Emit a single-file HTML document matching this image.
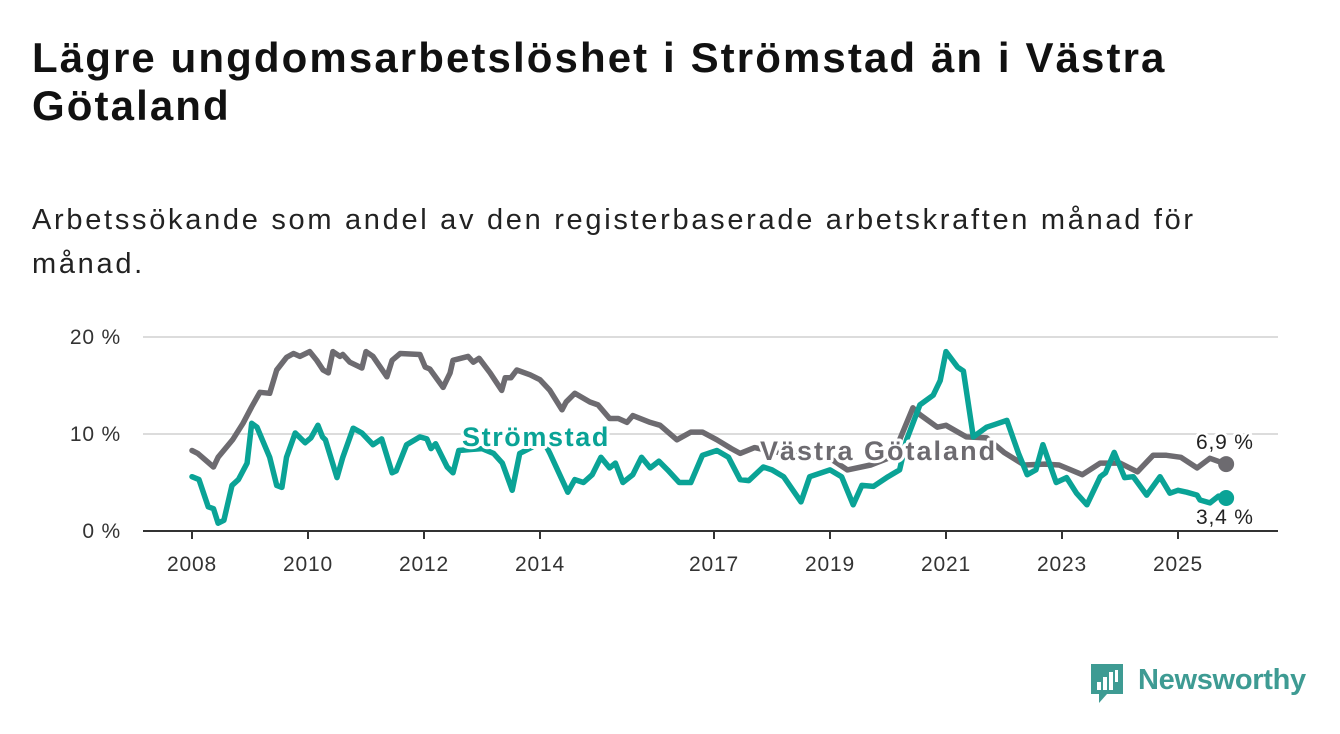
<!DOCTYPE html>
<html><head><meta charset="utf-8"><style>
body{margin:0;width:1340px;height:734px;background:#fff;overflow:hidden;font-family:"Liberation Sans","DejaVu Sans",sans-serif;}
h1{position:absolute;left:32px;top:34px;margin:0;font-size:42px;line-height:48px;font-weight:bold;color:#111;width:1300px;letter-spacing:2.1px;white-space:nowrap}
.sub{position:absolute;left:32px;top:198px;font-size:29px;line-height:44px;color:#222;width:1300px;letter-spacing:2.7px;white-space:nowrap}
svg{position:absolute;left:0;top:0}
</style></head><body>
<h1>Lägre ungdomsarbetslöshet i Strömstad än i Västra<br>Götaland</h1>
<div class="sub">Arbetssökande som andel av den registerbaserade arbetskraften månad för<br>månad.</div>
<svg id="chart" width="1340" height="734"></svg>
<script>
const yTicks=[0,10,20];
const yTickLabels=["0 %","10 %","20 %"];
const xTicks=[2008,2010,2012,2014,2017,2019,2021,2023,2025];
const vgYears=[2008.0,2008.1,2008.37,2008.45,2008.7,2008.88,2009.03,2009.17,2009.34,2009.46,2009.63,2009.75,2009.86,2010.03,2010.15,2010.26,2010.35,2010.43,2010.55,2010.6,2010.72,2010.93,2011.0,2011.12,2011.36,2011.45,2011.59,2011.93,2012.02,2012.1,2012.33,2012.45,2012.5,2012.76,2012.85,2012.95,2013.14,2013.34,2013.4,2013.5,2013.6,2013.83,2014.0,2014.17,2014.38,2014.45,2014.6,2014.86,2015.0,2015.2,2015.35,2015.5,2015.6,2015.9,2016.07,2016.36,2016.6,2016.8,2017.05,2017.3,2017.45,2017.7,2018.0,2018.5,2019.0,2019.3,2019.7,2020.0,2020.2,2020.43,2020.55,2020.85,2021.0,2021.35,2021.7,2022.0,2022.35,2022.7,2022.95,2023.35,2023.66,2024.0,2024.3,2024.57,2024.8,2025.05,2025.33,2025.55,2025.83];
const vgValues=[8.3,8.0,6.6,7.6,9.4,11.1,12.8,14.3,14.2,16.6,17.9,18.3,18.0,18.5,17.6,16.6,16.3,18.5,18.0,18.2,17.4,16.8,18.5,18.0,15.9,17.6,18.3,18.2,16.9,16.7,14.8,16.3,17.6,18.0,17.4,17.8,16.3,14.5,15.8,15.8,16.6,16.1,15.6,14.5,12.5,13.3,14.2,13.3,13.0,11.6,11.6,11.2,11.9,11.2,10.9,9.4,10.2,10.2,9.4,8.5,8.0,8.6,8.2,7.8,7.5,6.3,6.8,7.5,9.4,12.7,12.0,10.7,10.9,9.7,9.6,8.1,6.8,6.9,6.8,5.8,7.0,7.0,6.1,7.8,7.8,7.6,6.5,7.5,6.9];
const stYears=[2008.0,2008.12,2008.28,2008.37,2008.45,2008.55,2008.69,2008.8,2008.95,2009.03,2009.12,2009.34,2009.46,2009.55,2009.63,2009.78,2009.95,2010.05,2010.17,2010.25,2010.3,2010.5,2010.6,2010.78,2010.93,2011.12,2011.27,2011.45,2011.52,2011.7,2011.93,2012.05,2012.12,2012.2,2012.4,2012.5,2012.6,2012.8,2013.0,2013.2,2013.35,2013.52,2013.65,2013.85,2014.05,2014.17,2014.48,2014.6,2014.75,2014.9,2015.05,2015.2,2015.3,2015.43,2015.6,2015.75,2015.9,2016.05,2016.2,2016.4,2016.6,2016.8,2017.05,2017.25,2017.45,2017.6,2017.85,2018.0,2018.2,2018.5,2018.65,2019.0,2019.2,2019.4,2019.55,2019.75,2020.0,2020.2,2020.32,2020.55,2020.78,2020.9,2021.0,2021.2,2021.3,2021.47,2021.7,2021.85,2022.05,2022.25,2022.4,2022.55,2022.67,2022.9,2023.08,2023.25,2023.43,2023.66,2023.75,2023.9,2024.08,2024.23,2024.46,2024.69,2024.86,2025.0,2025.15,2025.33,2025.38,2025.55,2025.7,2025.83];
const stValues=[5.6,5.3,2.5,2.3,0.8,1.1,4.7,5.3,7.0,11.1,10.7,7.6,4.7,4.5,7.6,10.1,9.1,9.6,10.9,9.7,9.4,5.5,7.6,10.6,10.1,8.9,9.5,6.0,6.2,8.9,9.7,9.5,8.5,9.0,6.6,6.0,8.3,8.4,8.5,8.0,7.0,4.2,8.0,8.6,9.4,8.0,4.0,5.3,5.0,5.8,7.6,6.5,7.0,5.0,5.8,7.6,6.5,7.2,6.3,5.0,5.0,7.8,8.3,7.6,5.3,5.2,6.6,6.3,5.6,3.0,5.6,6.3,5.6,2.7,4.7,4.6,5.6,6.3,9.4,13.0,14.0,15.5,18.5,16.9,16.5,9.7,10.7,11.0,11.4,8.0,5.8,6.3,8.9,5.0,5.5,3.9,2.7,5.6,6.0,8.1,5.5,5.6,3.7,5.6,3.9,4.2,4.0,3.7,3.2,2.9,3.6,3.4];
const NS="http://www.w3.org/2000/svg";
const svg=document.getElementById('chart');
const x0=192,xPerYear=58,y0=531,yPer=9.7,left=143,right=1278;
const X=t=>x0+(t-2008)*xPerYear;
const Y=v=>y0-v*yPer;
function mk(tag,attrs,parent){const e=document.createElementNS(NS,tag);for(const k in attrs)e.setAttribute(k,attrs[k]);(parent||svg).appendChild(e);return e;}
yTicks.forEach((v,i)=>{
  if(v>0){const g=mk('line',{x1:left,x2:right,y1:Y(v),y2:Y(v),stroke:'#dcdcdc','stroke-width':2});
  
  }
  const t=mk('text',{x:121,y:Y(v)+7,'text-anchor':'end','font-size':21,'letter-spacing':0.8,fill:'#333','font-family':'Liberation Sans, sans-serif'});
  t.textContent=yTickLabels[i];
  
  
});
const ax=mk('line',{x1:left,x2:right,y1:y0,y2:y0,stroke:'#333','stroke-width':2});


xTicks.forEach(yr=>{
  const tk=mk('line',{x1:X(yr),x2:X(yr),y1:y0,y2:y0+8,stroke:'#333','stroke-width':2});
  
  
  const t=mk('text',{x:X(yr),y:y0+40,'text-anchor':'middle','font-size':21,'letter-spacing':0.8,fill:'#333','font-family':'Liberation Sans, sans-serif'});
  t.textContent=yr;
  
  
});
function path(ys,vs){return ys.map((t,i)=>(i?'L':'M')+X(t).toFixed(1)+','+Y(vs[i]).toFixed(1)).join('');}
const gl=mk('path',{d:path(vgYears,vgValues),fill:'none',stroke:'#6d6b70','stroke-width':5.5,'stroke-linejoin':'round','stroke-linecap':'round'});


const tl=mk('path',{d:path(stYears,stValues),fill:'none',stroke:'#0aa396','stroke-width':5.5,'stroke-linejoin':'round','stroke-linecap':'round'});


const gd=mk('circle',{cx:X(vgYears[vgYears.length-1]),cy:Y(vgValues[vgValues.length-1]),r:8,fill:'#6d6b70'});


const td=mk('circle',{cx:X(stYears[stYears.length-1]),cy:Y(stValues[stValues.length-1]),r:8,fill:'#0aa396'});


function label(txt,x,y,size,color,weight,ls,name){
  const t=mk('text',{x:x,y:y,'font-size':size,'letter-spacing':ls,fill:color,'font-weight':weight,'font-family':'Liberation Sans, DejaVu Sans, sans-serif',stroke:'#fff','stroke-width':6,'paint-order':'stroke','stroke-linejoin':'round'});
  t.textContent=txt;
  
  
}
label('Strömstad',462,446,27,'#0aa396','bold',1.6,'stromstad-label');
label('Västra Götaland',760,460,27,'#6d6b70','bold',2,'vastra-gotaland-label');
label('6,9 %',1196,449,21,'#222','normal',0.8,'vastra-gotaland-end-value');
label('3,4 %',1196,524,21,'#222','normal',0.8,'stromstad-end-value');
</script>
<div style="position:absolute;left:1089px;top:662px;width:230px;height:44px;">
<svg width="38" height="44" style="position:absolute;left:0;top:0"><path d="M2 2h32v30H18l-8 9v-9H2z" fill="#3e9b93"/><rect x="8" y="20" width="4" height="8" fill="#fff"/><rect x="14" y="15" width="4" height="13" fill="#fff"/><rect x="20" y="10" width="4" height="18" fill="#fff"/><rect x="26" y="8" width="3" height="12" fill="#fff"/></svg>
<div style="position:absolute;left:49px;top:0;font-size:29px;line-height:36px;color:#3e9b93;font-weight:bold;letter-spacing:-0.3px">Newsworthy</div>
</div>
</body></html>
